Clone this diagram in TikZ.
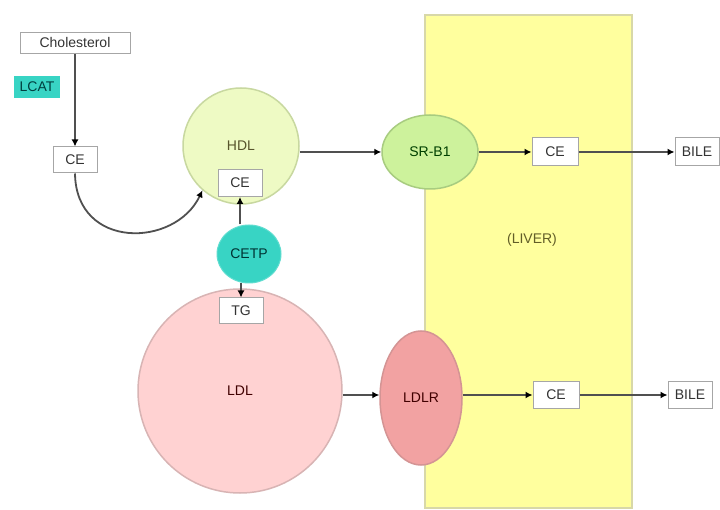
\documentclass[tikz,border=0pt]{standalone}
\usepackage{fontspec}
\setmainfont{Liberation Sans}
\usetikzlibrary{shapes.geometric,arrows.meta}
\definecolor{hdlfill}{HTML}{EEFAC4}
\definecolor{hdlline}{HTML}{C8D8A0}
\definecolor{srfill}{HTML}{CDF29C}
\definecolor{srline}{HTML}{A8CC80}
\definecolor{teal1}{HTML}{38D4C4}
\definecolor{ldlfill}{HTML}{FFD2D2}
\definecolor{ldlline}{HTML}{D8B4B4}
\definecolor{ldlrfill}{HTML}{F2A2A2}
\definecolor{ldlrline}{HTML}{D49494}
\definecolor{liverfill}{HTML}{FFFF9E}
\definecolor{liverline}{HTML}{D8D8A8}
\definecolor{conn}{HTML}{505050}
\begin{document}
\begin{tikzpicture}[x=1pt,y=-1pt,
  every node/.style={font=\fontsize{14}{16}\selectfont, inner sep=1pt},
  box/.style={draw=gray!70, line width=1pt, fill=white, minimum width=44pt, minimum height=26pt, text=black!80},
  conn/.style={draw=conn, line width=1.8pt, -{Latex[length=7pt,width=7pt,black]}}]
\useasboundingbox (0,0) rectangle (720,510);
\fill[white] (0,0) rectangle (720,510);
\draw[fill=liverfill, draw=liverline, line width=1.5pt] (425,15) rectangle (632,508);
\node[text=olive!60!black] (liver) at (532,240) {(LIVER)};

\node[box, minimum width=110pt, minimum height=21pt] (chol) at (75,43) {Cholesterol};
\node[fill=teal1, minimum width=46pt, minimum height=22pt, text=teal!50!black] (lcat) at (37,87) {LCAT};
\node[box] (ce1) at (75,160) {CE};

\node[circle, fill=hdlfill, draw=hdlline, line width=1.5pt, minimum size=116pt, text=olive!50!black] (hdl) at (241,146) {HDL};
\node[box, minimum height=27pt] (ce2) at (240,183) {CE};

\node[ellipse, fill=teal1, draw=teal1!80!white, line width=1pt, minimum width=64pt, minimum height=58pt, text=teal!40!black] (cetp) at (249,254) {CETP};

\node[circle, fill=ldlfill, draw=ldlline, line width=1.5pt, minimum size=204pt, text=red!25!black] (ldl) at (240,391) {LDL};
\node[box] (tg) at (241,311) {TG};

\node[ellipse, fill=srfill, draw=srline, line width=1.5pt, minimum width=96pt, minimum height=74pt, text=green!25!black] (srb1) at (430,152) {SR-B1};
\node[box, minimum width=46pt, minimum height=28pt] (ce3) at (555,152) {CE};
\node[box, minimum height=28pt] (bile1) at (697,152) {BILE};

\node[ellipse, fill=ldlrfill, draw=ldlrline, line width=1.5pt, minimum width=82pt, minimum height=134pt, text=red!25!black] (ldlr) at (421,398) {LDLR};
\node[box, minimum width=46pt, minimum height=27pt] (ce4) at (556,395) {CE};
\node[box] (bile2) at (690,395) {BILE};

\draw[conn] (chol.south) -- (ce1.north);
\draw[conn] (ce1.south) .. controls (76,250) and (175,248) .. (hdl.229);
\draw[conn] (hdl.east |- srb1.west) -- (srb1.west);
\draw[conn] (srb1.east) -- (ce3.west);
\draw[conn] (ce3.east) -- (bile1.west);
\draw[conn] (cetp.north -| ce2.south) -- (ce2.south);
\draw[conn] (cetp.south -| tg.north) -- (tg.north);
\draw[conn] (ldl.east |- ce4.west) -- (ldlr.west |- ce4.west);
\draw[conn] (ldlr.east |- ce4.west) -- (ce4.west);
\draw[conn] (ce4.east) -- (bile2.west);
\end{tikzpicture}
\end{document}
